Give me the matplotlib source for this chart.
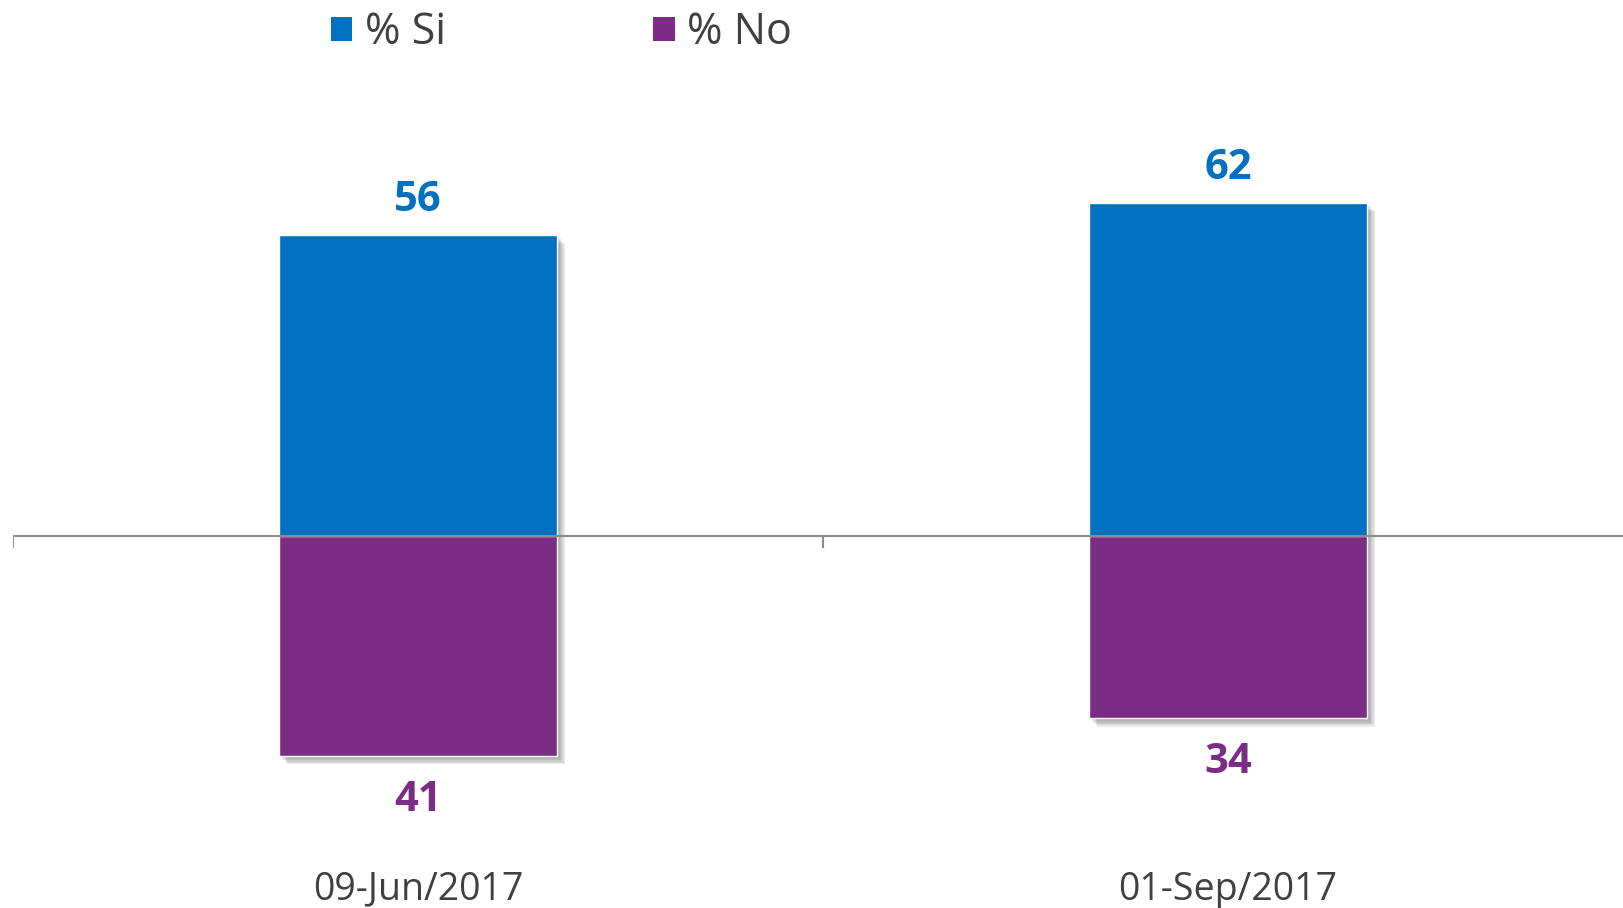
import matplotlib
matplotlib.use("Agg")
import matplotlib.pyplot as plt
import matplotlib.patheffects as pe
from matplotlib.patches import Patch
from matplotlib.transforms import blended_transform_factory

dates = ["09-Jun/2017", "01-Sep/2017"]
si_values = [56, 62]
no_values = [41, 34]

blue = "#0070C0"
purple = "#7B2C85"
gray_text = "#404040"

plt.rcParams['font.family'] = ['Open Sans', 'DejaVu Sans']

fig = plt.figure(figsize=(16.23, 9.08), dpi=100)
ax = fig.add_axes([13 / 1623, 0, 1620 / 1623, 1])

x = list(range(len(dates)))
# soft shadow: a few offset copies with low alpha
shadow = [pe.SimplePatchShadow(offset=(o, -o), shadow_rgbFace='#606060', alpha=0.12)
          for o in (6, 5, 4, 3, 2)] + [pe.Normal()]

bars_si = ax.bar(x, si_values, width=0.343, color=blue, edgecolor='white', linewidth=1, zorder=2)
bars_no = ax.bar(x, [-v for v in no_values], width=0.343, color=purple, edgecolor='white', linewidth=1, zorder=2)
for b in list(bars_si) + list(bars_no):
    b.set_path_effects(shadow)

ax.axhline(0, color='#8c8c8c', linewidth=1.5, zorder=3)

# value labels
for xi, v in zip(x, si_values):
    ax.annotate(str(v), (xi, v), xytext=(0, 10), textcoords='offset points',
                ha='center', va='bottom', fontsize=30, fontweight='bold', color=blue)
for xi, v in zip(x, no_values):
    ax.annotate(str(v), (xi, -v), xytext=(0, -17), textcoords='offset points',
                ha='center', va='top', fontsize=30, fontweight='bold', color=purple)

# category labels along the bottom
trans = blended_transform_factory(ax.transData, ax.transAxes)
for xi, d in zip(x, dates):
    ax.text(xi, 0.02, d, transform=trans, ha='center', va='center', fontsize=27, color=gray_text)

# separators between categories
for t in [-0.5, 0.5, 1.5]:
    ax.plot([t, t], [0, -2.1], color='#8c8c8c', linewidth=1.5, zorder=3)

ax.set_xlim(-0.5, 1.5)
ax.set_ylim(-69.3, 99.8)
ax.axis('off')

handles = [Patch(facecolor=blue, label='% Si'), Patch(facecolor=purple, label='% No')]
fig.legend(handles=handles, loc='center left', bbox_to_anchor=(292 / 1623, 1 - 33 / 908),
           ncol=2, frameon=False, fontsize=31, handlelength=0.5, handleheight=0.5,
           handletextpad=0.3, columnspacing=4.8, labelcolor=gray_text)

fig.savefig("out.png", dpi=100)
